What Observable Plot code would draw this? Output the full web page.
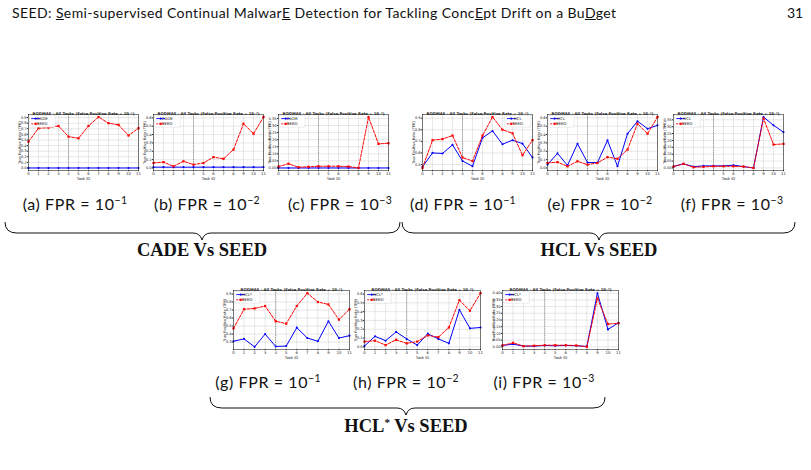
<!DOCTYPE html>
<html><head><meta charset="utf-8">
<script src="https://cdn.jsdelivr.net/npm/d3@7"></script>
<script src="https://cdn.jsdelivr.net/npm/@observablehq/plot@0.6"></script>
<style>
html,body{margin:0;padding:0;background:#fff}
body{width:811px;height:470px;position:relative;overflow:hidden;font-family:Lato,"Noto Sans",sans-serif;color:#111}
.hdr{position:absolute;left:12px;top:4px;font-size:14px;letter-spacing:0.4px;white-space:nowrap}
.pg{position:absolute;left:787px;top:4px;font-size:14px}
.cap{position:absolute;font-size:16px;letter-spacing:0.6px;white-space:nowrap;transform:translateX(-50%)}
.cap sup{font-size:10.5px;letter-spacing:0.3px;vertical-align:6px;line-height:0}
.grp{position:absolute;font-family:"Liberation Serif",serif;font-weight:bold;font-size:18.5px;white-space:nowrap;transform:translateX(-50%)}
.grp sup{font-size:11px;vertical-align:6px;line-height:0}
.chart{position:absolute}
svg.braces{position:absolute;left:0;top:0}
</style></head><body>
<div class="hdr">SEED: <u>S</u>emi-supervised Continual Malwar<u>E</u> Detection for Tackling Conc<u>E</u>pt Drift on a Bu<u>D</u>get</div>
<div class="pg">31</div>
<svg class="braces" width="811" height="470" fill="none" stroke="#111" stroke-width="1">
  <path d="M5,222 Q5,233 17,233 L193,233 Q200,233 202,240 Q204,233 211,233 L388,233 Q400,233 400,222"/>
  <path d="M402,222 Q402,233 414,233 L590,233 Q597,233 599,240 Q601,233 608,233 L783,233 Q795,233 795,222"/>
  <path d="M210,397 Q210,408 222,408 L397,408 Q404,408 406,415 Q408,408 415,408 L593,408 Q605,408 605,397"/>
</svg>
<div id="charts"></div>
<script>
// ---------------- data ----------------
const tasks = [0, 1, 2, 3, 4, 5, 6, 7, 8, 9, 10, 11];
const boundary = [4];
const seed1 = [0.47, 0.71, 0.72, 0.75, 0.56, 0.53, 0.75, 0.91, 0.80, 0.77, 0.58, 0.71];
const seed2 = [0.06, 0.07, 0.02, 0.08, 0.04, 0.06, 0.13, 0.11, 0.22, 0.53, 0.41, 0.61];
const seed3 = [0.01, 0.03, 0.005, 0.008, 0.012, 0.012, 0.012, 0.01, 0.0, 0.36, 0.17, 0.175];
const cade1 = [0, 0, 0, 0, 0, 0, 0, 0, 0, 0, 0, 0];
const cade2 = [0.01, 0.01, 0.01, 0.01, 0.01, 0.01, 0.01, 0.01, 0.01, 0.01, 0.01, 0.01];
const cade3 = [0, 0, 0, 0, 0, 0, 0, 0, 0, 0, 0, 0];
const hcl1 = [0.48, 0.60, 0.595, 0.67, 0.53, 0.485, 0.73, 0.79, 0.675, 0.71, 0.68, 0.56];
const hcl2 = [0.04, 0.175, 0.03, 0.29, 0.065, 0.065, 0.33, 0.02, 0.41, 0.56, 0.47, 0.51];
const hcl3 = [0.01, 0.03, 0.01, 0.015, 0.015, 0.015, 0.02, 0.01, 0.0, 0.37, 0.31, 0.26];
const hcls1 = [0.31, 0.34, 0.24, 0.40, 0.245, 0.25, 0.48, 0.35, 0.31, 0.56, 0.35, 0.38];
const hcls2 = [0.01, 0.12, 0.07, 0.17, 0.09, 0.02, 0.15, 0.09, 0.04, 0.42, 0.21, 0.22];
const hcls3 = [0.01, 0.02, 0.005, 0.005, 0.01, 0.008, 0.01, 0.008, 0.003, 0.40, 0.13, 0.18];
const ticksA = [0, 0.1, 0.2, 0.3, 0.4, 0.5, 0.6, 0.7, 0.8, 0.9];
const ticksB = [0, 0.1, 0.2, 0.3, 0.4, 0.5, 0.6];
const ticksC = [0, 0.05, 0.1, 0.15, 0.2, 0.25, 0.3, 0.35];
const ticksD = [0.5, 0.6, 0.7, 0.8, 0.9];
const ticksG = [0.3, 0.4, 0.5, 0.6, 0.7, 0.8, 0.9];
const ticksI = [0, 0.05, 0.1, 0.15, 0.2, 0.25, 0.3, 0.35, 0.4];
const exps = ["⁻¹", "⁻²", "⁻³"];
const captionLetters = ["a", "b", "c", "d", "e", "f", "g", "h", "i"];
const groupNames = ["CADE Vs SEED", "HCL Vs SEED", "HCL<sup>*</sup> Vs SEED"];
const baseNames = ["CADE", "HCL", "HCL*"];

// ---------------- layout ----------------
const R1 = {top: 114, h: 56, w: 110}, R2 = {top: 290, h: 59, w: 116};
const specs = [
  {left: 28, row: R1, base: cade1, bn: 0, seed: seed1, e: 0, ticks: ticksA, dom: [-0.045, 0.955], f: ".1f", leg: "left"},
  {left: 153, row: R1, base: cade2, bn: 0, seed: seed2, e: 1, ticks: ticksB, dom: [-0.03, 0.64], f: ".1f", leg: "left"},
  {left: 278, row: R1, base: cade3, bn: 0, seed: seed3, e: 2, ticks: ticksC, dom: [-0.018, 0.378], f: ".2f", leg: "left"},
  {left: 422, row: R1, base: hcl1, bn: 1, seed: seed1, e: 0, ticks: ticksD, dom: [0.448, 0.932], f: ".1f", leg: "right"},
  {left: 547, row: R1, base: hcl2, bn: 1, seed: seed2, e: 1, ticks: ticksB, dom: [-0.03, 0.64], f: ".1f", leg: "left"},
  {left: 673, row: R1, base: hcl3, bn: 1, seed: seed3, e: 2, ticks: ticksC, dom: [-0.0185, 0.3885], f: ".2f", leg: "left"},
  {left: 233, row: R2, base: hcls1, bn: 2, seed: seed1, e: 0, ticks: ticksG, dom: [0.207, 0.944], f: ".1f", leg: "left"},
  {left: 364, row: R2, base: hcls2, bn: 2, seed: seed2, e: 1, ticks: ticksB, dom: [-0.03, 0.64], f: ".1f", leg: "left"},
  {left: 502, row: R2, base: hcls3, bn: 2, seed: seed3, e: 2, ticks: ticksI, dom: [-0.02, 0.42], f: ".2f", leg: "left"}
];
const capPos = [[75, 194], [207, 194], [340, 194], [463, 194], [600, 194], [732, 194], [268, 372], [406, 372], [544, 372]];
const grpPos = [[202, 240], [599, 240], [406, 416]];

const BLUE = "#0000ff", RED = "#ff0000";

function legendMark(entries, anchor) {
  return (index, scales, values, dims) => {
    const {width, marginLeft, marginTop, marginRight} = dims;
    const bw = 26, bh = 12;
    const x0 = anchor === "left" ? marginLeft + 1.2 : width - marginRight - 1.2 - bw;
    const y0 = marginTop + 1.2;
    const g = d3.create("svg:g");
    g.append("rect").attr("x", x0).attr("y", y0).attr("width", bw).attr("height", bh)
      .attr("rx", 0.8).attr("fill", "#fff").attr("fill-opacity", 0.9)
      .attr("stroke", "#cccccc").attr("stroke-width", 0.4);
    entries.forEach((e, i) => {
      const yy = y0 + 3.4 + i * 5.2;
      g.append("line").attr("x1", x0 + 2).attr("x2", x0 + 11).attr("y1", yy).attr("y2", yy)
        .attr("stroke", e.color).attr("stroke-width", 0.9).attr("stroke-dasharray", e.dash || null);
      if (e.square) g.append("rect").attr("x", x0 + 5.4).attr("y", yy - 1.1).attr("width", 2.2).attr("height", 2.2).attr("fill", e.color);
      else g.append("circle").attr("cx", x0 + 6.5).attr("cy", yy).attr("r", 1.1).attr("fill", e.color);
      g.append("text").attr("x", x0 + 13).attr("y", yy).attr("dy", "0.35em")
        .attr("font-size", 3.9).attr("fill", "#222").text(e.label);
    });
    return g.node();
  };
}

const host = document.getElementById("charts");
specs.forEach((s, k) => {
  const mL = 26, mR = 4, mT = 8, mB = 10;
  const W = s.row.w + mL + mR, H = s.row.h + mT + mB;
  const baseRows = tasks.map((t, i) => ({task: t, v: s.base[i]}));
  const seedRows = tasks.map((t, i) => ({task: t, v: s.seed[i]}));
  const title = `BODMAS - All Tasks (False Positive Rate = 10${exps[s.e]})`;
  const svg = Plot.plot({
    width: W, height: H,
    marginLeft: mL, marginRight: mR, marginTop: mT, marginBottom: mB,
    style: {fontSize: "3.8px", fontFamily: "DejaVu Sans", background: "transparent", overflow: "visible", color: "#222"},
    x: {domain: [0, 11]},
    y: {domain: s.dom},
    marks: [
      Plot.gridX(tasks, {stroke: "#c4c4c4", strokeOpacity: 1, strokeWidth: 0.4}),
      Plot.gridY(s.ticks, {stroke: "#c4c4c4", strokeOpacity: 1, strokeWidth: 0.4}),
      Plot.ruleX(boundary, {stroke: "#555", strokeWidth: 0.6, strokeDasharray: "1,0.8"}),
      Plot.line(baseRows, {x: "task", y: "v", stroke: BLUE, strokeWidth: 1}),
      Plot.dot(baseRows, {x: "task", y: "v", fill: BLUE, r: 1.05}),
      Plot.line(seedRows, {x: "task", y: "v", stroke: RED, strokeWidth: 1, strokeDasharray: "2.8,1.4"}),
      Plot.dot(seedRows, {x: "task", y: "v", fill: RED, r: 1.25, symbol: "square"}),
      Plot.frame({stroke: "#000", strokeWidth: 0.5}),
      Plot.axisX({ticks: tasks, tickSize: 1.2, tickPadding: 0.7, tickFormat: d3.format("d"),
        label: "Task ID", labelAnchor: "center", labelOffset: 9.3, labelArrow: "none", fontSize: 3.8}),
      Plot.axisY({ticks: s.ticks, tickSize: 1.2, tickPadding: 0.7, tickFormat: d3.format(s.f),
        label: "True Positive Rate (TPR)", labelAnchor: "center", labelOffset: 10.5, labelArrow: "none", fontSize: 3.6}),
      Plot.text([title], {frameAnchor: "top", dy: -2.6, fontSize: 3.8, fontWeight: "bold", fill: "#222"}),
      legendMark([
        {label: baseNames[s.bn], color: BLUE},
        {label: "SEED", color: RED, dash: "2,1", square: true}
      ], s.leg)
    ]
  });
  const div = document.createElement("div");
  div.className = "chart";
  div.style.left = (s.left - mL) + "px";
  div.style.top = (s.row.top - mT) + "px";
  div.appendChild(svg);
  host.appendChild(div);

  const cap = document.createElement("div");
  cap.className = "cap";
  cap.style.left = capPos[k][0] + "px";
  cap.style.top = capPos[k][1] + "px";
  cap.innerHTML = `(${captionLetters[k]}) FPR = 10<sup>−${s.e + 1}</sup>`;
  document.body.appendChild(cap);
});
groupNames.forEach((g, i) => {
  const d = document.createElement("div");
  d.className = "grp";
  d.style.left = grpPos[i][0] + "px";
  d.style.top = grpPos[i][1] + "px";
  d.innerHTML = g;
  document.body.appendChild(d);
});
</script>
</body></html>
